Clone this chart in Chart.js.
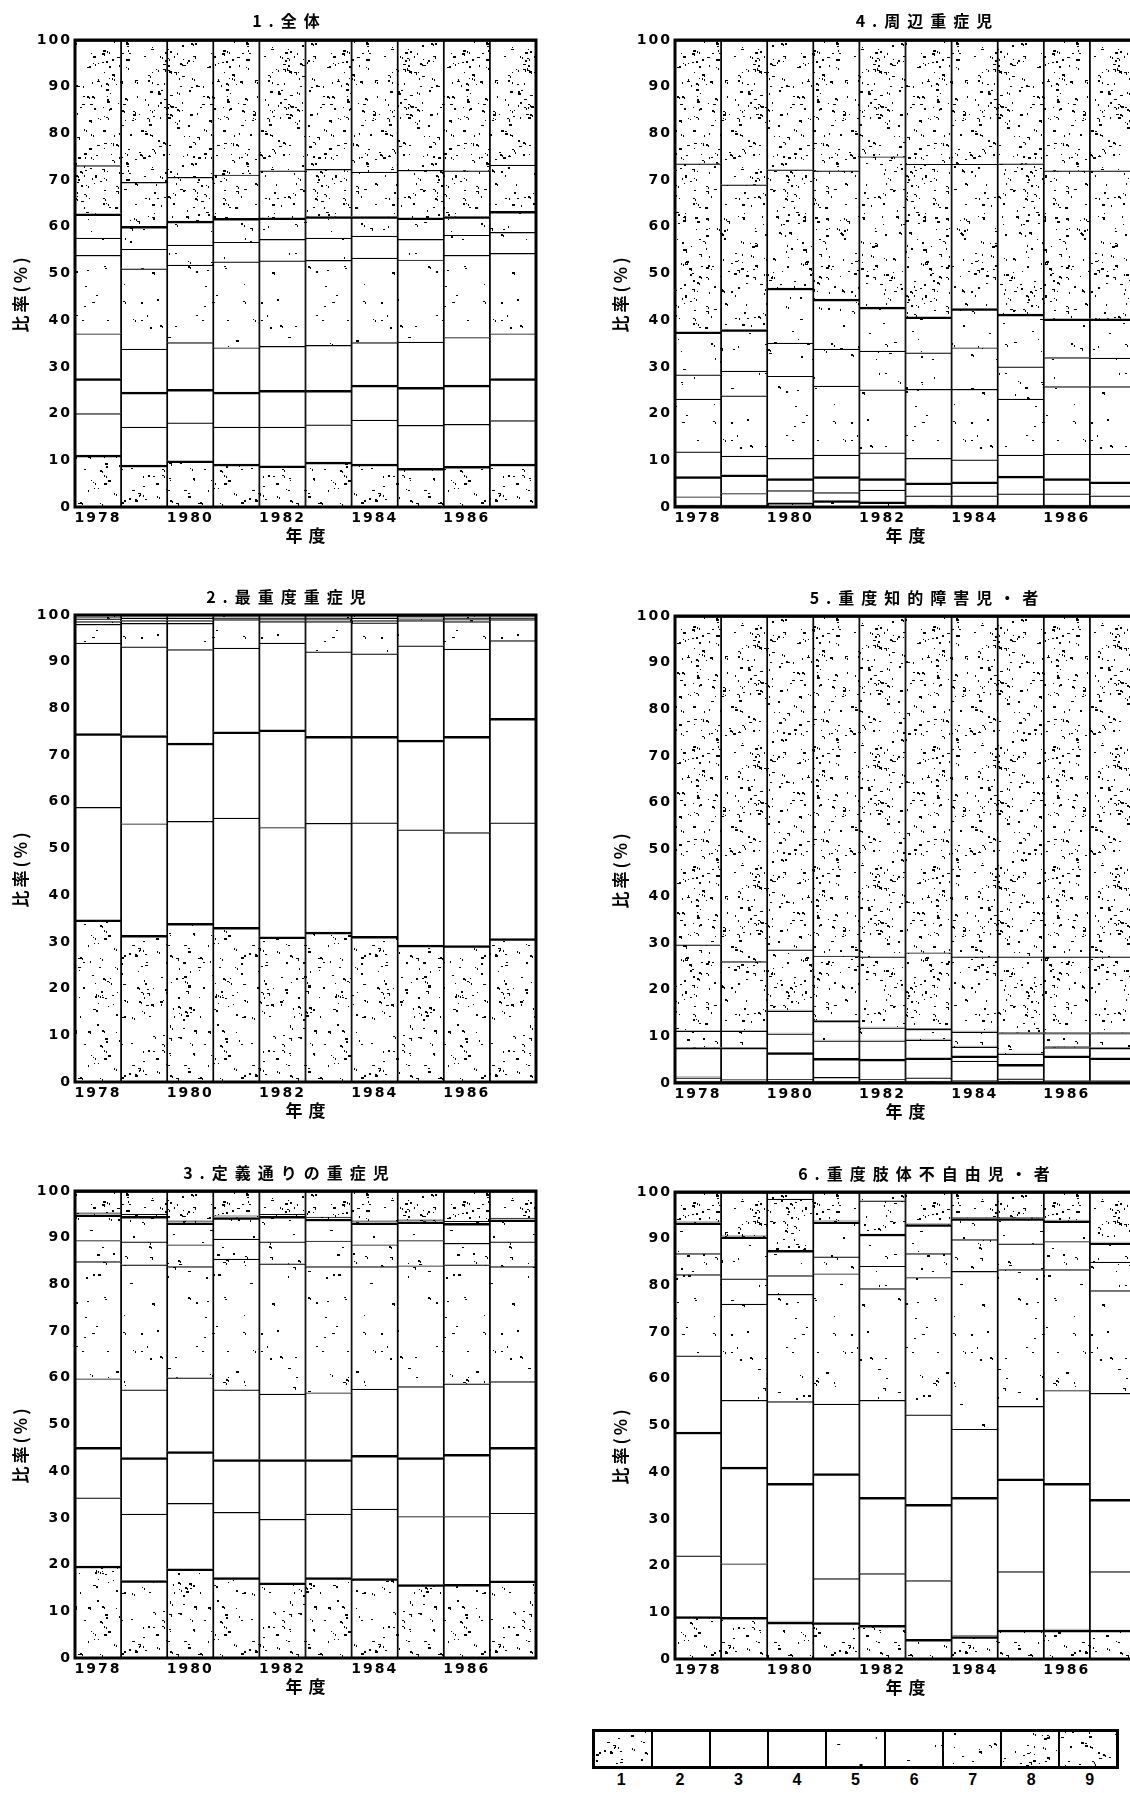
<!DOCTYPE html>
<html lang="ja">
<head>
<meta charset="utf-8">
<title>重症児 区分別比率の推移</title>
<script src="https://cdn.jsdelivr.net/npm/chart.js@4.4.1/dist/chart.umd.min.js"></script>
<style>
    html, body { margin: 0; padding: 0; background: #fff; overflow: hidden; }
    #page { position: relative; width: 1130px; height: 1793px; overflow: hidden; }
    #page canvas { position: absolute; }
    .panel-title {
        position: absolute;
        transform: translateX(-50%);
        font: bold 16px 'Noto Sans CJK JP', sans-serif;
        line-height: 22px;
        letter-spacing: 7px;
        padding-left: 7px;
        white-space: nowrap;
        color: #000;
    }
    #legend {
        position: absolute; left: 592px; top: 1729px; width: 521px; height: 34px;
        display: flex; border: 3px solid #000;
    }
    #legend .box { flex: 1; border-left: 2px solid #000; background-repeat: repeat; }
    #legend .box:first-child { border-left: none; }
    #legend-nums { position: absolute; left: 592px; top: 1771px; width: 527px; display: flex; }
    #legend-nums .num { flex: 1; text-align: center; font: bold 16px 'Liberation Sans', sans-serif; color: #000; }
</style>
</head>
<body>
<div id="page">
    <div id="legend"></div>
    <div id="legend-nums"></div>
</div>
<script>
// Years on the x axis
const years = ['1978', '1979', '1980', '1981', '1982', '1983', '1984', '1985', '1986', '1987'];
// Legend categories (stack order, bottom to top)
const categories = ['1', '2', '3', '4', '5', '6', '7', '8', '9'];

const panelTitles = ['1.全体', '2.最重度重症児', '3.定義通りの重症児', '4.周辺重症児', '5.重度知的障害児・者', '6.重度肢体不自由児・者'];
const yAxisTitle = '比率(%)';
const xAxisTitle = '年度';

// Cumulative top (%) of categories 1..8 for each year; category 9 runs up to 100
const bounds1 = [
    [11.1, 20.0, 27.5, 37.1, 53.9, 57.6, 62.8, 73.1],
    [9.0, 17.1, 24.6, 33.8, 51.0, 55.2, 60.1, 69.5],
    [9.9, 18.0, 25.2, 35.2, 51.8, 56.1, 61.2, 70.6],
    [9.2, 17.1, 24.6, 34.1, 52.5, 56.7, 61.8, 71.1],
    [8.8, 17.1, 25.0, 34.4, 52.7, 57.3, 61.9, 72.0],
    [9.6, 17.6, 25.0, 34.6, 52.8, 57.6, 62.2, 72.3],
    [9.2, 18.6, 26.1, 35.2, 53.3, 58.0, 62.2, 71.7],
    [8.3, 17.5, 25.6, 35.3, 52.9, 57.3, 61.9, 72.1],
    [8.7, 17.7, 26.1, 36.3, 53.9, 58.2, 62.2, 72.0],
    [9.2, 18.5, 27.5, 37.1, 54.3, 58.8, 63.3, 73.2]
];

const bounds2 = [
    [34.7, 58.8, 74.6, 94.0, 98.0, 98.6, 99.2, 99.6],
    [31.4, 55.3, 74.2, 93.2, 98.2, 98.8, 99.3, 99.6],
    [34.0, 55.8, 72.6, 92.6, 98.2, 98.8, 99.3, 99.6],
    [33.1, 56.5, 75.0, 92.9, 99.0, 99.3, 99.6, 99.8],
    [31.1, 54.5, 75.4, 94.0, 98.6, 99.0, 99.3, 99.6],
    [32.1, 55.4, 74.0, 92.1, 98.6, 99.0, 99.3, 99.6],
    [31.2, 55.5, 74.0, 91.7, 98.3, 98.8, 99.3, 99.6],
    [29.3, 54.0, 73.2, 93.4, 98.8, 99.1, 99.4, 99.7],
    [29.2, 53.4, 74.0, 92.7, 98.6, 99.0, 99.3, 99.6],
    [30.7, 55.5, 77.9, 94.5, 99.0, 99.3, 99.6, 99.8]
];

const bounds3 = [
    [19.7, 34.3, 45.1, 59.8, 84.9, 89.4, 94.9, 95.3],
    [16.6, 30.8, 42.9, 57.4, 84.2, 89.1, 94.6, 95.0],
    [19.1, 33.1, 44.2, 60.0, 83.8, 88.5, 93.2, 93.6],
    [17.2, 31.2, 42.5, 57.4, 85.4, 89.7, 94.3, 94.7],
    [16.1, 29.7, 42.5, 56.5, 84.4, 89.1, 94.6, 95.0],
    [17.2, 30.8, 42.5, 56.8, 83.8, 89.3, 94.0, 94.4],
    [17.0, 31.9, 43.4, 57.6, 83.8, 88.5, 93.2, 93.6],
    [15.7, 30.3, 42.9, 58.1, 84.0, 89.4, 93.4, 93.8],
    [15.8, 30.3, 43.6, 58.7, 84.2, 88.8, 93.1, 93.5],
    [16.5, 31.0, 45.1, 59.2, 83.8, 89.1, 93.8, 94.2]
];

const bounds4 = [
    [0.4, 2.2, 6.5, 11.8, 23.1, 28.3, 37.5, 73.5],
    [0.4, 2.9, 6.9, 10.9, 23.8, 29.1, 38.0, 69.0],
    [0.9, 3.5, 6.1, 10.4, 28.0, 35.1, 46.9, 72.2],
    [1.4, 3.1, 6.5, 11.1, 25.9, 33.8, 44.5, 72.0],
    [1.1, 3.6, 6.1, 11.6, 25.1, 33.4, 42.8, 75.0],
    [0.4, 2.4, 5.2, 10.4, 25.2, 33.0, 40.7, 73.4],
    [0.4, 2.4, 5.4, 10.1, 25.2, 34.1, 42.5, 73.4],
    [0.3, 2.8, 6.6, 11.1, 23.1, 30.0, 41.3, 73.5],
    [0.4, 2.8, 6.1, 11.3, 25.8, 32.0, 40.3, 72.0],
    [0.4, 2.4, 5.4, 11.3, 25.8, 31.9, 40.3, 72.0]
];

const bounds5 = [
    [0.4, 1.1, 1.3, 7.4, 7.6, 11.1, 11.3, 29.6],
    [0.4, 0.6, 0.8, 7.4, 7.6, 11.1, 11.3, 26.0],
    [0.4, 0.8, 6.5, 10.5, 10.7, 15.4, 15.6, 28.5],
    [0.4, 1.2, 5.3, 9.0, 9.2, 13.2, 13.4, 27.2],
    [0.4, 0.8, 5.1, 9.0, 9.2, 11.8, 12.0, 27.0],
    [0.4, 1.1, 5.4, 9.2, 9.4, 11.5, 11.7, 27.9],
    [0.5, 4.7, 5.8, 7.7, 7.9, 10.9, 11.1, 27.0],
    [0.4, 0.9, 4.0, 6.2, 6.4, 10.6, 10.8, 27.0],
    [0.3, 0.5, 5.8, 7.6, 7.8, 10.6, 10.8, 27.0],
    [0.3, 0.5, 5.4, 7.4, 7.6, 10.6, 10.8, 27.0]
];

const bounds6 = [
    [9.1, 22.1, 48.6, 64.9, 82.3, 86.8, 93.4, 93.6],
    [8.9, 20.4, 41.1, 55.4, 76.0, 81.4, 90.4, 90.6],
    [7.9, 8.1, 37.6, 55.1, 78.1, 82.1, 87.5, 98.5],
    [7.8, 17.2, 39.7, 54.6, 82.5, 86.1, 93.6, 93.8],
    [7.2, 18.3, 34.6, 55.4, 79.3, 84.1, 91.0, 98.1],
    [4.2, 16.8, 33.1, 52.3, 81.7, 86.8, 93.0, 93.2],
    [4.8, 5.0, 34.6, 49.2, 83.0, 89.8, 94.3, 94.5],
    [6.2, 18.7, 38.6, 54.1, 83.4, 88.9, 94.3, 94.5],
    [6.2, 6.4, 37.6, 57.5, 83.4, 89.4, 93.8, 94.0],
    [6.2, 18.7, 34.2, 56.9, 78.9, 85.0, 89.1, 89.3]
];

// Styling per category: stipple specks per tile and weight of the segment's top line
const catDots = [150, 0, 0, 0, 40, 34, 46, 180, 200];
const catTopLine = [2.5, 1.2, 2.5, 1.2, 1.2, 1.2, 2.5, 1.2, 2];

// Where each panel sits on the page
const panelLayout = [
    { left: 0, top: 0, yWidth: 75, rightPad: 24, titleX: 286, titleY: 20 },
    { left: 0, top: 575, yWidth: 75, rightPad: 24, titleX: 286, titleY: 596 },
    { left: 0, top: 1151, yWidth: 75, rightPad: 24, titleX: 286, titleY: 1172 },
    { left: 590, top: 0, yWidth: 85, rightPad: 14, titleX: 924, titleY: 20 },
    { left: 590, top: 576, yWidth: 85, rightPad: 14, titleX: 924, titleY: 597 },
    { left: 590, top: 1152, yWidth: 85, rightPad: 14, titleX: 924, titleY: 1173 }
];
const allBounds = [bounds1, bounds2, bounds3, bounds4, bounds5, bounds6];

// Stipple texture tile (fixed seed so the texture is always the same)
function makeTile(count, seed) {
    const size = 120;
    const c = document.createElement('canvas');
    c.width = size;
    c.height = size;
    const g = c.getContext('2d');
    g.fillStyle = '#fff';
    g.fillRect(0, 0, size, size);
    g.fillStyle = '#000';
    let s = seed;
    const next = () => (s = (s * 16807) % 2147483647) / 2147483647;
    for (let i = 0; i < count; i++) {
        const x = Math.floor(next() * size);
        const y = Math.floor(next() * size);
        const w = 1 + Math.floor(next() * 2.5);
        const h = 1 + Math.floor(next() * 2);
        g.fillRect(x, y, w, h);
        // some specks come in small clumps
        if (next() < 0.3) g.fillRect(x + 2, y + 1, 1, 2);
    }
    return c;
}

const tiles = catDots.map((n, i) => makeTile(n, 1234 + i * 977));
const patterns = tiles.map(t => t.getContext('2d').createPattern(t, 'repeat'));

// Turn cumulative tops into per-category segment heights
function segmentsFrom(bounds) {
    return categories.map((c, k) => bounds.map(row => {
        const lo = k === 0 ? 0 : row[k - 1];
        const hi = k === 8 ? 100 : row[k];
        return +(hi - lo).toFixed(2);
    }));
}

Chart.defaults.font.family = "'DejaVu Sans', sans-serif";
Chart.defaults.font.size = 14;
Chart.defaults.font.weight = 'bold';
Chart.defaults.color = '#000';

const textSpacing = {
    id: 'textSpacing',
    beforeLayout(chart) { chart.ctx.letterSpacing = '2px'; },
    beforeDraw(chart) { chart.ctx.letterSpacing = '2px'; }
};

const frameAndTitles = {
    id: 'frameAndTitles',
    afterDraw(chart) {
        const { ctx, chartArea: a } = chart;
        ctx.save();
        ctx.strokeStyle = '#000';
        ctx.lineWidth = 3;
        ctx.strokeRect(a.left, a.top, a.right - a.left, a.bottom - a.top);

        ctx.fillStyle = '#000';
        ctx.textAlign = 'center';
        ctx.textBaseline = 'middle';

        ctx.save();
        ctx.font = "bold 17px 'Noto Sans CJK JP', sans-serif";
        ctx.letterSpacing = '3px';
        ctx.translate(a.left - 54, (a.top + a.bottom) / 2 + 20);
        ctx.rotate(-Math.PI / 2);
        ctx.fillText(yAxisTitle, 0, 0);
        ctx.restore();

        ctx.font = "bold 17px 'Noto Sans CJK JP', sans-serif";
        ctx.letterSpacing = '6px';
        ctx.fillText(xAxisTitle, (a.left + a.right) / 2 + 3, a.bottom + 29);
        ctx.restore();
    }
};

const page = document.getElementById('page');

panelLayout.forEach((pos, p) => {
    const canvas = document.createElement('canvas');
    canvas.width = 560;
    canvas.height = 557;
    canvas.style.left = pos.left + 'px';
    canvas.style.top = pos.top + 'px';
    page.appendChild(canvas);

    const title = document.createElement('div');
    title.className = 'panel-title';
    title.textContent = panelTitles[p];
    title.style.left = pos.titleX + 'px';
    title.style.top = (pos.titleY - 11) + 'px';
    page.appendChild(title);

    const segs = segmentsFrom(allBounds[p]);
    const datasets = categories.map((cat, k) => ({
        label: cat,
        data: segs[k],
        backgroundColor: patterns[k],
        borderColor: '#000',
        borderWidth: { top: catTopLine[k], left: 1.2, right: 1.2, bottom: 0 },
        borderSkipped: false,
        barPercentage: 1,
        categoryPercentage: 1
    }));

    new Chart(canvas, {
        type: 'bar',
        data: { labels: years, datasets },
        options: {
            responsive: false,
            animation: false,
            devicePixelRatio: 1,
            layout: { padding: { top: 40, right: pos.rightPad, left: 0, bottom: 0 } },
            plugins: {
                legend: { display: false },
                tooltip: { enabled: false },
                title: { display: false }
            },
            scales: {
                x: {
                    stacked: true,
                    grid: { display: false, drawTicks: false },
                    border: { display: false },
                    ticks: {
                        autoSkip: false,
                        maxRotation: 0,
                        padding: 3,
                        callback: (v, i) => i % 2 === 0 ? years[i] : ''
                    },
                    afterFit: (s) => { s.height = 50; }
                },
                y: {
                    stacked: true,
                    min: 0,
                    max: 100,
                    grid: { display: false, drawTicks: false },
                    border: { display: false },
                    ticks: { stepSize: 10, padding: 3 },
                    afterFit: (s) => { s.width = pos.yWidth; }
                }
            }
        },
        plugins: [textSpacing, frameAndTitles]
    });
});

// Legend: one swatch per category with its number underneath
const legend = document.getElementById('legend');
const legendNums = document.getElementById('legend-nums');
categories.forEach((cat, k) => {
    const box = document.createElement('div');
    box.className = 'box';
    box.style.backgroundImage = `url(${tiles[k].toDataURL()})`;
    legend.appendChild(box);
    const num = document.createElement('div');
    num.className = 'num';
    num.textContent = cat;
    legendNums.appendChild(num);
});
</script>
</body>
</html>
